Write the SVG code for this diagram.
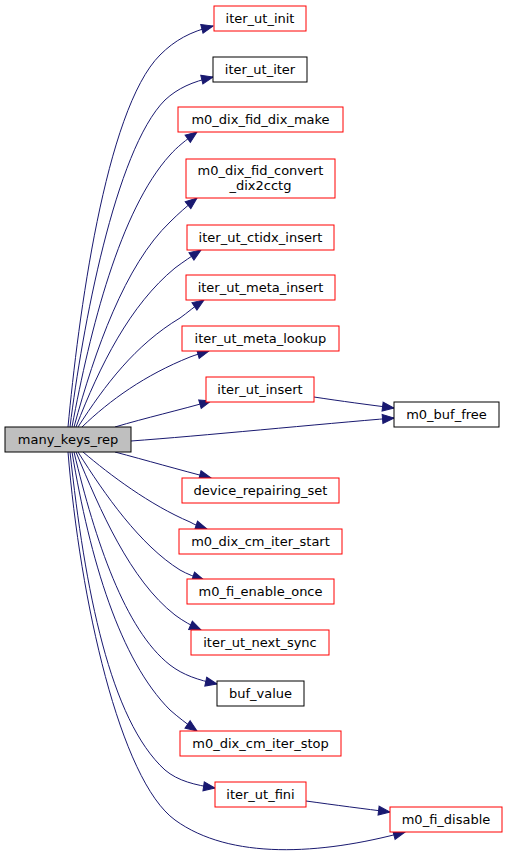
<svg xmlns="http://www.w3.org/2000/svg" width="508" height="857" viewBox="0 0 508 857">
<style>
.n rect{fill:#fff;stroke:#ff0000;stroke-width:1}
.n.b rect{stroke:#000}
.n.root rect{fill:#bfbfbf;stroke:#000}
.n text{font-family:"DejaVu Sans","Liberation Sans",sans-serif;font-size:13px;fill:#000;text-anchor:middle}
.e path{fill:none;stroke:#191970;stroke-width:1;marker-end:url(#ah)}
</style>
<defs>
<marker id="ah" markerUnits="userSpaceOnUse" markerWidth="14" markerHeight="12" viewBox="0 0 14 12" refX="12.5" refY="6" orient="auto">
<path d="M1,1.5 L12.5,6 L1,10.5 Z" fill="#191970" stroke="#191970"/>
</marker>
</defs>
<rect width="508" height="857" fill="#fff"/>
<g id="edges" class="e">
<path d="M68,427 C78,320 105,110 160,55 C175,40 190,32 213,26"/>
<path d="M70,427 C82,330 115,150 165,100 C178,88 192,82 213,77"/>
<path d="M72,427 C90,330 120,210 170,155 C177,147 186,140 197,132"/>
<path d="M74,427 C95,350 125,265 170,222 C178,214 187,206 197,198"/>
<path d="M76,427 C100,365 130,305 175,268 C183,262 192,256 201,250"/>
<path d="M78,427 C105,385 135,345 180,318 C187,313 195,306 204,300"/>
<path d="M82,427 C110,400 145,375 190,357 C195,355 202,353 209,351"/>
<path d="M115,427 C145,418 180,410 211,401"/>
<path d="M131,441 C200,436 320,424 394,418"/>
<path d="M314,397 C340,401 370,405 394,408"/>
<path d="M115,452 C145,460 180,470 211,478"/>
<path d="M83,452 C110,475 150,505 190,522 C195,525 201,527 207,529"/>
<path d="M78,452 C105,495 140,545 180,570 C187,574 195,577 204,580"/>
<path d="M76,452 C100,510 130,580 175,615 C183,621 192,626 201,630"/>
<path d="M74,452 C95,540 125,630 170,665 C183,675 198,680 217,684"/>
<path d="M72,452 C90,560 120,660 170,710 C178,717 187,724 197,731"/>
<path d="M70,452 C85,590 110,720 165,770 C178,781 195,785 215,788"/>
<path d="M306,801 C335,805 365,809 390,812"/>
<path d="M68,452 C80,600 120,780 175,820 C230,860 320,855 405,832"/>
</g>
<g id="many_keys_rep" class="n root"><rect x="5" y="427" width="126" height="25"/><text x="68" y="444">many_keys_rep</text></g>
<g id="iter_ut_init" class="n"><rect x="214" y="6" width="92" height="25"/><text x="260" y="23">iter_ut_init</text></g>
<g id="iter_ut_iter" class="n b"><rect x="213" y="57" width="94" height="25"/><text x="260" y="74">iter_ut_iter</text></g>
<g id="m0_dix_fid_dix_make" class="n"><rect x="178" y="107" width="165" height="25"/><text x="260.5" y="124">m0_dix_fid_dix_make</text></g>
<g id="m0_dix_fid_convert_dix2cctg" class="n"><rect x="186" y="159" width="149" height="39"/><text x="260.5" y="175">m0_dix_fid_convert</text><text x="260.5" y="190">_dix2cctg</text></g>
<g id="iter_ut_ctidx_insert" class="n"><rect x="187" y="225" width="147" height="25"/><text x="260.5" y="242">iter_ut_ctidx_insert</text></g>
<g id="iter_ut_meta_insert" class="n"><rect x="186" y="275" width="149" height="25"/><text x="260.5" y="292">iter_ut_meta_insert</text></g>
<g id="iter_ut_meta_lookup" class="n"><rect x="182" y="326" width="157" height="25"/><text x="260.5" y="343">iter_ut_meta_lookup</text></g>
<g id="iter_ut_insert" class="n"><rect x="206" y="377" width="108" height="25"/><text x="260" y="394">iter_ut_insert</text></g>
<g id="m0_buf_free" class="n b"><rect x="394" y="402" width="105" height="25"/><text x="446.5" y="419">m0_buf_free</text></g>
<g id="device_repairing_set" class="n"><rect x="182" y="478" width="157" height="25"/><text x="260.5" y="495">device_repairing_set</text></g>
<g id="m0_dix_cm_iter_start" class="n"><rect x="179" y="529" width="163" height="25"/><text x="260.5" y="546">m0_dix_cm_iter_start</text></g>
<g id="m0_fi_enable_once" class="n"><rect x="187" y="579" width="147" height="25"/><text x="260.5" y="596">m0_fi_enable_once</text></g>
<g id="iter_ut_next_sync" class="n"><rect x="191" y="630" width="138" height="25"/><text x="260" y="647">iter_ut_next_sync</text></g>
<g id="buf_value" class="n b"><rect x="217" y="681" width="87" height="25"/><text x="260.5" y="698">buf_value</text></g>
<g id="m0_dix_cm_iter_stop" class="n"><rect x="180" y="731" width="161" height="25"/><text x="260.5" y="748">m0_dix_cm_iter_stop</text></g>
<g id="iter_ut_fini" class="n"><rect x="215" y="782" width="91" height="25"/><text x="260.5" y="799">iter_ut_fini</text></g>
<g id="m0_fi_disable" class="n"><rect x="390" y="807" width="112" height="25"/><text x="446" y="824">m0_fi_disable</text></g>
</svg>
